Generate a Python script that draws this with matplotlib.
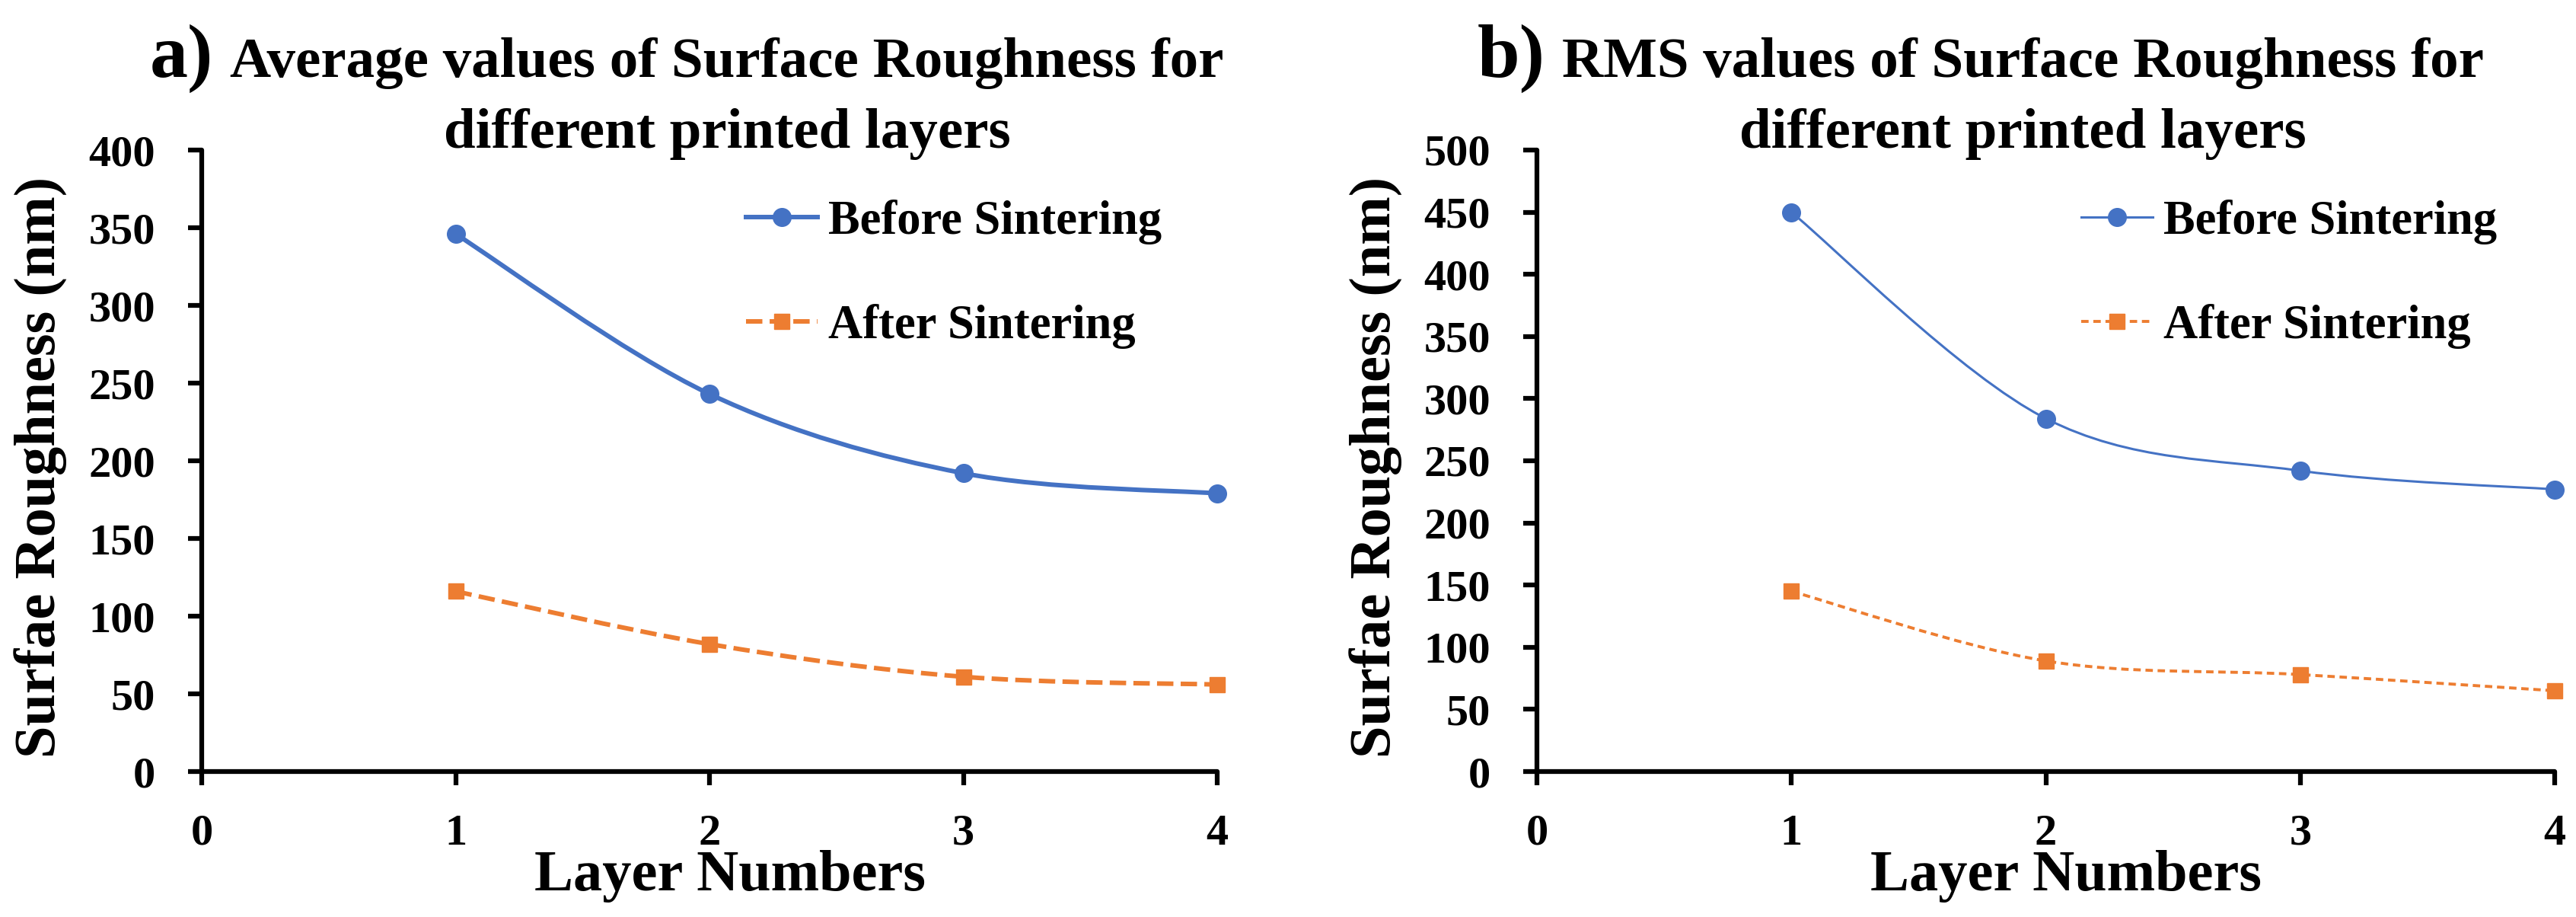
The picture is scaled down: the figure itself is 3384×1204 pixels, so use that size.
import matplotlib
matplotlib.use("Agg")
import matplotlib.pyplot as plt
from matplotlib.path import Path
from matplotlib.patches import PathPatch
from matplotlib.lines import Line2D

# Data
layers = [1, 2, 3, 4]
avg_before = [346, 243, 192, 179]
avg_after = [116, 82, 61, 56]
rms_before = [450, 284, 242, 227]
rms_after = [145, 89, 78, 65]

blue = "#4472C4"
orange = "#ED7D31"

plt.rcParams['font.family'] = ['Liberation Serif', 'DejaVu Serif']
plt.rcParams['font.weight'] = 'bold'


def smooth_path(xs, ys):
    # Excel-style smoothed line: cubic Bezier segments through the points
    px = [xs[0]] + list(xs) + [xs[-1]]
    py = [ys[0]] + list(ys) + [ys[-1]]
    verts = [(xs[0], ys[0])]
    codes = [Path.MOVETO]
    for i in range(1, len(px) - 2):
        c1 = (px[i] + (px[i + 1] - px[i - 1]) / 6, py[i] + (py[i + 1] - py[i - 1]) / 6)
        c2 = (px[i + 1] - (px[i + 2] - px[i]) / 6, py[i + 1] - (py[i + 2] - py[i]) / 6)
        verts += [c1, c2, (px[i + 1], py[i + 1])]
        codes += [Path.CURVE4] * 3
    return Path(verts, codes)


fig = plt.figure(figsize=(33.84, 12.04), dpi=100)
ax_a = fig.add_axes([265 / 3384, 1 - 1013 / 1204, 1334 / 3384, 816 / 1204])
ax_b = fig.add_axes([2019 / 3384, 1 - 1013 / 1204, 1337 / 3384, 816 / 1204])

panels = [
    (ax_a, avg_before, avg_after, 400, 4.3, (0, (3.6, 1.6)), 4.3, 0.536),
    (ax_b, rms_before, rms_after, 500, 2.2, (0, (2.5, 1.6)), 2.8, 0.535),
]

for ax, before, after, ymax, lw_b, ls_a, lw_a, x_leg in panels:
    ax.add_patch(PathPatch(smooth_path(layers, before), fill=False, color=blue,
                           lw=lw_b, clip_on=False, capstyle='round'))
    ax.add_patch(PathPatch(smooth_path(layers, after), fill=False, color=orange,
                           lw=lw_a, linestyle=ls_a, clip_on=False))
    ax.plot(layers, before, ls='none', marker='o', ms=17, color=blue, clip_on=False, zorder=3)
    ax.plot(layers, after, ls='none', marker='s', ms=15, color=orange, clip_on=False, zorder=3)

    ax.set_xlim(0, 4)
    ax.set_ylim(0, ymax)
    ax.set_xticks([0, 1, 2, 3, 4])
    ax.set_yticks(range(0, ymax + 1, 50))
    for side in ['top', 'right']:
        ax.spines[side].set_visible(False)
    for side in ['left', 'bottom']:
        ax.spines[side].set_linewidth(4.5)
        ax.spines[side].set_capstyle('round')
    ax.tick_params(axis='both', direction='out', length=13, width=4.5, labelsize=42)
    ax.tick_params(axis='y', pad=31)
    ax.tick_params(axis='x', pad=27)

    ax.set_xlabel("Layer Numbers", fontsize=55, fontweight='bold')
    ax.set_ylabel("Surfae Roughness (nm)", fontsize=55, fontweight='bold')
    ax.xaxis.set_label_coords(0.52, -0.168)
    ax.yaxis.set_label_coords(-0.158, 0.49)
    ax.xaxis.label.set_va('center')
    ax.yaxis.label.set_va('center')

    handles = [
        Line2D([], [], color=blue, lw=lw_b, marker='o', ms=17),
        Line2D([], [], color=orange, lw=lw_a, ls=ls_a, marker='s', ms=15),
    ]
    ax.legend(handles, ["Before Sintering", "After Sintering"], loc='center left',
              bbox_to_anchor=(x_leg, 0.80), frameon=False, fontsize=45,
              borderpad=0, borderaxespad=0, handlelength=1.5, handletextpad=0.22,
              labelspacing=1.25, numpoints=1)

# Two-line titles with the bigger panel letter in front
titles = [
    ("a)", "Average values of Surface Roughness for", "different printed layers", 955),
    ("b)", "RMS values of Surface Roughness for", "different printed layers", 2657),
]
fig.canvas.draw()
renderer = fig.canvas.get_renderer()
for letter, line1, line2, xc in titles:
    t1 = fig.text(xc / 3384, 1 - 101 / 1204, line1, ha='center', va='baseline',
                  fontsize=54, fontweight='bold')
    fig.text(xc / 3384, 1 - 194 / 1204, line2, ha='center', va='baseline',
             fontsize=54, fontweight='bold')
    bb = t1.get_window_extent(renderer=renderer)
    fig.text((bb.x0 - 22) / 3384, 1 - 101 / 1204, letter, ha='right', va='baseline',
             fontsize=72, fontweight='bold')

fig.savefig("out.png", dpi=100, facecolor='white')
